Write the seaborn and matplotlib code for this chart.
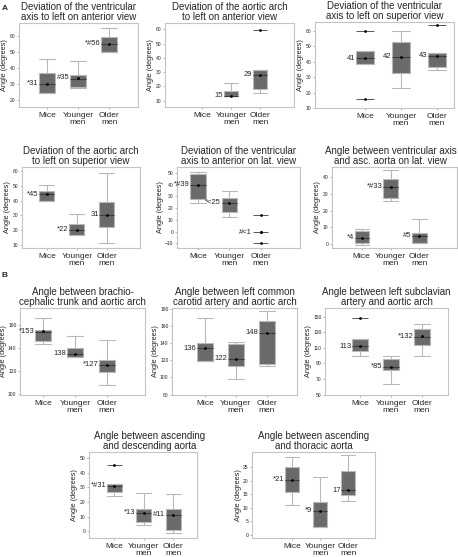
import numpy as np
import pandas as pd
import matplotlib.pyplot as plt
import seaborn as sns

sns.set_style("white")
plt.rcParams['font.family'] = ['Liberation Sans', 'DejaVu Sans']

groups = ["Mice", "Younger\nmen", "Older\nmen"]

# five-number summaries per group: low whisker, q1, median, q3, high whisker (None = no box)
stats_1 = [[24, 24, 30, 37, 45.5], [27.3, 28, 33.3, 35.6, 44.6], [50.2, 50.2, 55.2, 59.6, 65.4]]
means_1 = [30, 33.8, 55.2]
labels_1 = ["*31", "#35", "*#56"]
outliers_1 = [[], [], []]

stats_2 = [None, [13, 13, 13.5, 16.5, 22.3], [15.3, 18.1, 28.2, 31.4, 31.4]]
means_2 = [None, 13.4, 28.2]
labels_2 = ["", "15", "29"]
outliers_2 = [[], [], [59.3]]

stats_3 = [[38.3, 38.3, 42, 46.5, 46.5], [22.6, 32.5, 43, 52.8, 59.5], [34.6, 36.2, 43.5, 45.3, 45.3]]
means_3 = [42, 43, 43.6]
labels_3 = ["41", "42", "43"]
outliers_3 = [[59.6, 16.1], [], [63.6]]

stats_4 = [[40.1, 40.1, 44.5, 46.7, 50.4], [16.5, 16.5, 20, 24, 31], [11, 22, 30.5, 39, 59]]
means_4 = [44.5, 20, 30.5]
labels_4 = ["*45", "*22", "31"]
outliers_4 = [[], [], []]

stats_5 = [[24.5, 28, 40, 49.5, 51], [12.7, 17, 24.5, 28.7, 35], None]
means_5 = [40, 24.5, -0.5]
labels_5 = ["*#39", "*<25", "#<1"]
outliers_5 = [[], [], [14, -0.5, -10]]

stats_6 = [[-0.6, 0.8, 3.8, 7.5, 8.9], [25.5, 27.5, 34.2, 39, 44.6], [0.8, 0.8, 4.9, 6.4, 14.8]]
means_6 = [3.8, 34.2, 4.9]
labels_6 = ["*4", "*#33", "#5"]
outliers_6 = [[], [], []]

stats_7 = [[143.4, 145.7, 153.7, 155.4, 165.7], [132, 132, 134.3, 140, 149.7], [107.7, 118.6, 125, 129.7, 146.3]]
means_7 = [154.3, 134.9, 125]
labels_7 = ["*153", "138", "*127"]
outliers_7 = [[], [], []]

stats_8 = [[119.2, 119.2, 133.8, 139.6, 169.6], [98, 113.8, 122, 138.5, 140.8], [113.8, 115.4, 152, 166, 177.3]]
means_8 = [133.8, 122, 152]
labels_8 = ["136", "122", "148"]
outliers_8 = [[], [], []]

stats_9 = [[100, 106, 112, 121, 121], [64, 82, 86, 96, 100], [100, 113.6, 124, 134, 141]]
means_9 = [112, 86, 125]
labels_9 = ["113", "*85", "*132"]
outliers_9 = [[148.5], [], []]

stats_10 = [[24.4, 26.6, 30.9, 32, 32], [4.3, 6.3, 12.6, 15.5, 25.8], [-0.9, 0.9, 11.4, 15.2, 25.3]]
means_10 = [31, 12.6, 11.4]
labels_10 = ["*#31", "*13", "#11"]
outliers_10 = [[45], [], []]

stats_11 = [[11, 15.9, 20.4, 25, 28.9], [3, 3, 9, 12.2, 21.3], [12.6, 14.6, 16.6, 23.5, 29.5]]
means_11 = [20.4, 9, 16.6]
labels_11 = ["*21", "*9", "17"]
outliers_11 = [[], [], []]

titles = [
    "Deviation of the ventricular\naxis to left on anterior view",
    "Deviation of the aortic arch\nto left on anterior view",
    "Deviation of the ventricular\naxis to left on superior view",
    "Deviation of the aortic arch\nto left on superior view",
    "Deviation of the ventricular\naxis to anterior on lat. view",
    "Angle between ventricular axis\nand asc. aorta on lat. view",
    "Angle between brachio-\ncephalic trunk and aortic arch",
    "Angle between left common\ncarotid artery and aortic arch",
    "Angle between left subclavian\nartery and aortic arch",
    "Angle between ascending\nand descending aorta",
    "Angle between ascending\nand thoracic aorta",
]

yticks = [
    [20, 30, 40, 50, 60], [10, 20, 30, 40, 50, 60], [10, 20, 30, 40, 50, 60],
    [10, 20, 30, 40, 50, 60], [-10, 0, 10, 20, 30, 40, 50], [0, 10, 20, 30, 40],
    [100, 120, 140, 160], [80, 100, 120, 140, 160, 180], [50, 70, 90, 110, 130, 150],
    [0, 10, 20, 30, 40, 50], [0, 5, 10, 15, 20, 25],
]

# layout: axes box in pixels (left, top, right, bottom), x and y limits, title centre offset
boxes = [
    (19, 23, 138, 107), (165, 23, 294, 107), (315, 22, 454, 108),
    (22, 167, 140, 248), (177, 167, 300, 248), (332, 167, 457, 248),
    (20, 308, 145, 395), (172, 308, 297, 395), (325, 308, 448, 395),
    (89, 452, 197, 538), (252, 452, 375, 538),
]
xlims = [
    (-0.9, 2.93), (-1.28, 3.17), (-1.39, 2.47),
    (-0.83, 3.1), (-0.68, 3.26), (-1.03, 3.3),
    (-0.72, 3.19), (-1.06, 2.97), (-1.13, 2.84),
    (-0.85, 2.8), (-1.43, 2.96),
]
ylims = [
    (15.4, 68.3), (5.5, 64.5), (10, 65.5),
    (7.7, 63), (-14, 55.1), (-2.4, 46.2),
    (99, 174.3), (79.5, 181), (49.5, 161),
    (-4.5, 54), (-1.2, 30.7),
]
title_x = [0.5, 0.5, 0.5, 0.5, 0.5, 0.47, 0.5, 0.5, 0.5, 0.56, 0.5]

panels = [
    (stats_1, means_1, labels_1, outliers_1), (stats_2, means_2, labels_2, outliers_2),
    (stats_3, means_3, labels_3, outliers_3), (stats_4, means_4, labels_4, outliers_4),
    (stats_5, means_5, labels_5, outliers_5), (stats_6, means_6, labels_6, outliers_6),
    (stats_7, means_7, labels_7, outliers_7), (stats_8, means_8, labels_8, outliers_8),
    (stats_9, means_9, labels_9, outliers_9), (stats_10, means_10, labels_10, outliers_10),
    (stats_11, means_11, labels_11, outliers_11),
]

W, H = 458, 557
fig = plt.figure(figsize=(W / 100, H / 100), dpi=100)

box_fill = "#6a6a6a"
edge = "#b8b8b8"
frame = "#c4c4c4"

for k, (stats, means, labels, outliers) in enumerate(panels):
    l, t, r, b = boxes[k]
    ax = fig.add_axes([l / W, 1 - b / H, (r - l) / W, (b - t) / H])

    rows = []
    for g, s in zip(groups, stats):
        if s is None:
            continue
        for v in s:
            rows.append((g, v))
    df = pd.DataFrame(rows, columns=["group", "angle"])

    sns.boxplot(data=df, x="group", y="angle", order=groups, whis=(0, 100), width=0.5,
                color=box_fill, saturation=1, linecolor=edge, linewidth=0.8,
                showfliers=False, capwidths=0.5,
                medianprops=dict(color="#3c3c3c", linewidth=0.8), ax=ax)

    for i, ys in enumerate(outliers):
        for y in ys:
            ax.hlines(y, i - 0.25, i + 0.25, color="#555555", linewidth=0.7, zorder=4)
            ax.scatter(i, y, s=4, color="black", zorder=5, linewidths=0)

    for i, (m, lab) in enumerate(zip(means, labels)):
        if m is None:
            continue
        ax.scatter(i, m, s=4, color="black", zorder=5, linewidths=0)
        ax.text(i - 0.27, m, lab, ha="right", va="center", fontsize=5.5)

    ax.set_xlim(*xlims[k])
    ax.set_ylim(*ylims[k])
    ax.set_yticks(yticks[k])
    ax.set_xlabel("")
    ax.set_ylabel("Angle (degrees)", fontsize=5.3, labelpad=1)
    ax.set_title(titles[k], fontsize=7.0, pad=2, linespacing=1.05, x=title_x[k])
    ax.tick_params(axis="y", labelsize=3.6, length=1.5, width=0.5, color="#999999", pad=1, left=True)
    ax.tick_params(axis="x", labelsize=6, length=1.5, width=0.5, color="#999999", pad=2, bottom=True)
    for lab in ax.get_xticklabels():
        lab.set_linespacing(1.0)
    for sp in ax.spines.values():
        sp.set_color(frame)
        sp.set_linewidth(0.8)

fig.text(2 / W, 1 - 9 / H, "A", fontsize=6, fontweight="bold", va="center")
fig.text(2 / W, 1 - 276 / H, "B", fontsize=6, fontweight="bold", va="center")

fig.savefig("out.png", dpi=100)
